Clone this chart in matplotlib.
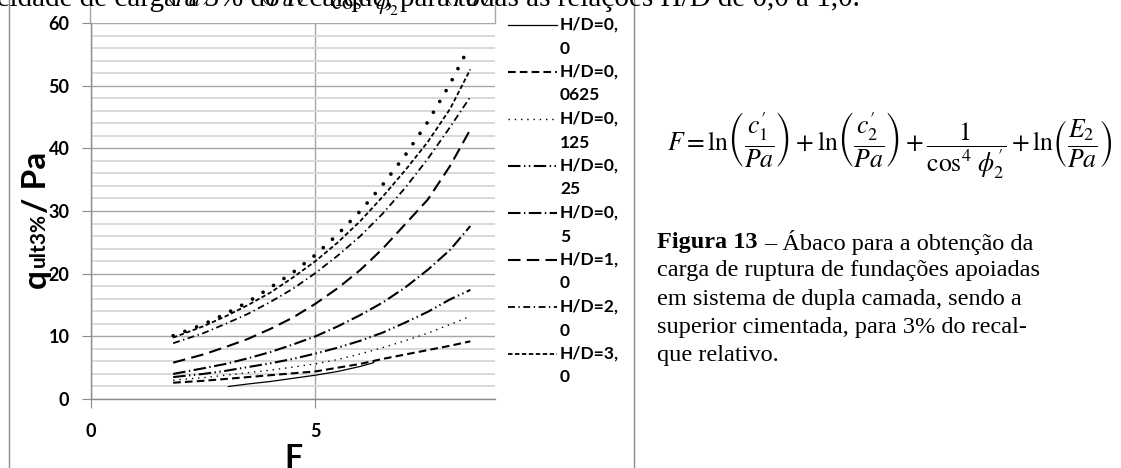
import matplotlib
matplotlib.use("Agg")
import matplotlib.pyplot as plt
from matplotlib.lines import Line2D
import numpy as np

plt.rcParams['lines.scale_dashes'] = False
plt.rcParams['mathtext.fontset'] = 'stix'

W, H = 1121, 468

# ---------------- data ----------------
F_std = [1.83, 2.5, 3.0, 3.5, 4.0, 4.5, 5.0, 5.5, 6.0, 6.5, 7.0, 7.5, 8.0, 8.45]

F_top = [1.83, 2.5, 3.0, 3.5, 4.0, 4.5, 5.0, 5.5, 6.0, 6.5, 7.0, 7.5, 8.0, 8.34]
q_top = [10.1, 11.9, 13.6, 15.5, 17.8, 20.2, 23.0, 26.3, 30.0, 34.2, 38.9, 44.2, 50.3, 55.0]

F_hd00 = [3.06, 3.5, 4.0, 4.5, 5.0, 5.5, 6.0, 6.3]
q_hd00 = [2.0, 2.4, 2.8, 3.3, 3.8, 4.4, 5.2, 5.8]

q_hd00625 = [2.6, 2.9, 3.2, 3.5, 3.8, 4.1, 4.4, 5.0, 5.6, 6.4, 7.1, 7.8, 8.5, 9.2]
q_hd0125 = [3.0, 3.4, 3.8, 4.2, 4.6, 5.1, 5.6, 6.3, 7.2, 8.2, 9.3, 10.5, 11.9, 13.2]
q_hd025 = [3.5, 4.0, 4.5, 5.1, 5.7, 6.4, 7.25, 8.2, 9.3, 10.6, 12.2, 13.9, 15.9, 17.4]
q_hd05 = [4.0, 4.9, 5.6, 6.5, 7.5, 8.7, 10.0, 11.6, 13.4, 15.4, 17.8, 20.6, 23.8, 27.6]
q_hd10 = [5.8, 7.1, 8.3, 9.6, 11.2, 13.0, 15.2, 17.7, 20.6, 24.0, 27.9, 31.8, 37.2, 43.0]
q_hd20 = [8.9, 10.5, 12.0, 13.6, 15.5, 17.6, 20.1, 22.9, 26.0, 29.6, 33.7, 38.3, 43.4, 48.2]
q_hd30 = [9.8, 11.6, 13.2, 15.0, 17.0, 19.4, 22.0, 25.0, 28.4, 32.3, 36.5, 41.0, 46.3, 52.6]

labels = ["H/D=0,0", "H/D=0,0625", "H/D=0,125", "H/D=0,25",
          "H/D=0,5", "H/D=1,0", "H/D=2,0", "H/D=3,0"]

y_ticks = [0, 10, 20, 30, 40, 50, 60]
x_ticks = [0, 5]

# ---------------- styles ----------------
styles = [
    dict(lw=0.9, ls='-'),
    dict(lw=1.5, ls=(0, (5.5, 3.0))),
    dict(lw=1.0, ls=(0, (1.0, 3.5))),
    dict(lw=1.5, ls=(0, (9, 2.5, 1, 2.5, 1, 2.5))),
    dict(lw=1.5, ls=(0, (9, 2.5, 1, 2.5))),
    dict(lw=1.5, ls=(0, (9, 4.5))),
    dict(lw=1.3, ls=(0, (5, 2.5, 1, 2.5))),
    dict(lw=1.3, ls=(0, (3.2, 1.8))),
]

fig = plt.figure(figsize=(W / 100, H / 100), dpi=100)
fig.patch.set_facecolor('white')

def fx(x):
    return x / W

def fy(y):
    return 1 - y / H

ax_l, ax_r, ax_t, ax_b = 91, 495, 23, 399
ax = fig.add_axes([fx(ax_l), fy(ax_b), fx(ax_r - ax_l), (ax_b - ax_t) / H])
ax.set_xlim(0, 9)
ax.set_ylim(0, 60)

series = [
    (F_hd00, q_hd00), (F_std, q_hd00625), (F_std, q_hd0125), (F_std, q_hd025),
    (F_std, q_hd05), (F_std, q_hd10), (F_std, q_hd20), (F_std, q_hd30),
]
for (xs, ys), st in zip(series, styles):
    ax.plot(xs, ys, color='black', lw=st['lw'], linestyle=st['ls'], zorder=3)

ax.plot(F_top, q_top, color='black', lw=2.7, linestyle=(0, (0.01, 9.0)),
        dash_capstyle='round', zorder=3)

# grid
ax.set_yticks(y_ticks)
ax.set_yticks(np.arange(0, 61, 2), minor=True)
ax.set_xticks(x_ticks)
ax.grid(which='minor', axis='y', color='#d9d9d9', lw=1.4, zorder=0)
ax.grid(which='major', axis='y', color='#a6a6a6', lw=1.0, zorder=1)
ax.grid(which='major', axis='x', color='#a6a6a6', lw=1.0, zorder=1)
ax.tick_params(which='minor', length=0)
ax.tick_params(which='major', direction='out', length=6.5, width=0.8, color='#8c8c8c')
ax.tick_params(axis='y', pad=9)
ax.tick_params(axis='x', pad=11)
for s in ['top', 'right']:
    ax.spines[s].set_visible(False)
for s in ['left', 'bottom']:
    ax.spines[s].set_color('#8c8c8c')
    ax.spines[s].set_linewidth(1.0)
for lab in ax.get_xticklabels() + ax.get_yticklabels():
    lab.set_fontfamily('Lato')
    lab.set_fontweight('bold')
    lab.set_fontsize(13)

# axis titles
fig.text(fx(293), fy(459), "F", family='Lato', weight='bold', fontsize=23,
         ha='center', va='center')
fig.text(fx(46), fy(288), "q", family='Lato', weight='bold', fontsize=24,
         rotation=90, rotation_mode='anchor', ha='left', va='baseline')
fig.text(fx(45), fy(267), "ult3%", family='Lato', weight='bold', fontsize=15,
         rotation=90, rotation_mode='anchor', ha='left', va='baseline')
fig.text(fx(46), fy(213), "/ Pa", family='Lato', weight='bold', fontsize=24,
         rotation=90, rotation_mode='anchor', ha='left', va='baseline')

# legend (manual, aligned like the original)
for i, (lab, st) in enumerate(zip(labels, styles)):
    yc = 25 + 47 * i
    fig.add_artist(Line2D([fx(508), fx(557)], [fy(yc), fy(yc)], color='black',
                          lw=st['lw'], linestyle=st['ls']))
    head, tail = lab.split(',')
    fig.text(fx(560), fy(yc), head + ",", family='Lato', weight='bold',
             fontsize=12.5, ha='left', va='center')
    fig.text(fx(560), fy(yc + 23.5), tail, family='Lato', weight='bold',
             fontsize=12.5, ha='left', va='center')

# chart frame lines
fig.add_artist(Line2D([fx(9), fx(9)], [0, 1], color='#8c8c8c', lw=1.0))
fig.add_artist(Line2D([fx(634), fx(634)], [0, 1], color='#8c8c8c', lw=1.0))
# formula box above the plot
fig.add_artist(Line2D([fx(90), fx(90)], [fy(23), 1], color='#a6a6a6', lw=1.0))
fig.add_artist(Line2D([fx(495), fx(495)], [fy(23), 1], color='#a6a6a6', lw=1.0))

formula = (r"$F=\ln\!\left(\dfrac{c_1'}{Pa}\right)+\ln\!\left(\dfrac{c_2'}{Pa}\right)"
           r"+\dfrac{1}{\cos^4\,\phi_2'}+\ln\!\left(\dfrac{E_2}{Pa}\right)$")
fig.text(fx(890), fy(146), formula, fontsize=18.5, ha='center', va='center')
fig.text(fx(300), fy(-12), formula, fontsize=16, ha='center', va='center')

# cut-off sentence at the top
fig.text(fx(860), fy(6), "capacidade de carga a 3% do recalque, para todas as relações H/D de 0,0 a 1,0.",
         family='Liberation Serif', fontsize=21, ha='right', va='baseline')

# caption
cap_lines = ["carga de ruptura de fundações apoiadas",
             "em sistema de dupla camada, sendo a",
             "superior cimentada, para 3% do recal-",
             "que relativo."]
cap_fs = 17.5
t0 = fig.text(fx(657), fy(242), "Figura 13", family='Liberation Serif', weight='bold',
              fontsize=cap_fs, ha='left', va='center')
renderer = fig.canvas.get_renderer()
bb = t0.get_window_extent(renderer)
fig.text((bb.x1 + 7) / W, fy(242), "– Ábaco para a obtenção da", family='Liberation Serif',
         fontsize=cap_fs, ha='left', va='center')
for k, line in enumerate(cap_lines):
    fig.text(fx(657), fy(242 + 28.5 * (k + 1)), line, family='Liberation Serif',
             fontsize=cap_fs, ha='left', va='center')

fig.savefig("out.png", dpi=100, facecolor='white')
